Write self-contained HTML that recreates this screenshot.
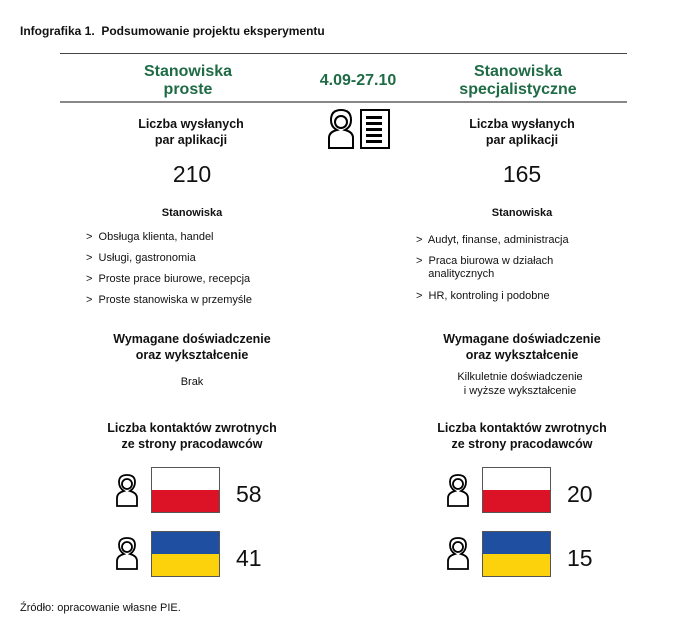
<!DOCTYPE html><html><head><meta charset="utf-8"><style>
body{margin:0;width:679px;height:637px;background:#fff;font-family:"Liberation Sans",sans-serif;color:#111;position:relative;overflow:hidden}
.a{position:absolute;white-space:nowrap}
.c{text-align:center;transform:translateX(-50%)}
.g{color:#1e6b45;font-weight:bold;font-size:16px;line-height:18px}
.h{font-weight:bold;font-size:12.5px;line-height:16px}
.n{font-size:23px}
.s{font-size:11px}
.li{font-size:11px;line-height:13px}
.fl{position:absolute;width:69px;height:46px;border:1px solid #555;box-sizing:border-box}
.pl{background:linear-gradient(#fff 50%,#dc1327 50%)}
.ua{background:linear-gradient(#1e4fa0 50%,#fcd20c 50%)}
</style></head><body>
<div class="a" style="left:20px;top:24px;font-weight:bold;font-size:12px">Infografika 1.&nbsp; Podsumowanie projektu eksperymentu</div>
<div class="a" style="left:60px;top:53px;width:567px;height:1px;background:#444"></div>
<div class="a" style="left:60px;top:101px;width:567px;height:2px;background:#888"></div>
<div class="a c g" style="left:188px;top:63px">Stanowiska<br>proste</div>
<div class="a c g" style="left:358px;top:72px">4.09-27.10</div>
<div class="a c g" style="left:518px;top:63px">Stanowiska<br>specjalistyczne</div>
<svg class="a" style="left:326px;top:108px" width="66" height="42" viewBox="0 0 66 42">
<g fill="none" stroke="#000" stroke-width="2"><path d="M3 40V30q0-6 8-8q-6-3-6-10q0-10 10-10q10 0 10 10q0 7-6 10q8 2 8 8v10z"/><circle cx="15" cy="14" r="6"/><rect x="35" y="2" width="28" height="38"/></g>
<g fill="#000"><rect x="40" y="8" width="16" height="3"/><rect x="40" y="14" width="16" height="3"/><rect x="40" y="20" width="16" height="3"/><rect x="40" y="26" width="16" height="3"/><rect x="40" y="32" width="16" height="3"/></g></svg>
<div class="a c h" style="left:191px;top:116px">Liczba wysłanych<br>par aplikacji</div>
<div class="a c h" style="left:522px;top:116px">Liczba wysłanych<br>par aplikacji</div>
<div class="a c n" style="left:192px;top:161px">210</div>
<div class="a c n" style="left:522px;top:161px">165</div>
<div class="a c h" style="left:192px;top:205px;font-size:11px">Stanowiska</div>
<div class="a c h" style="left:522px;top:205px;font-size:11px">Stanowiska</div>
<div class="a li" style="left:86px;top:231px">&gt;&nbsp; Obsługa klienta, handel</div>
<div class="a li" style="left:86px;top:252px">&gt;&nbsp; Usługi, gastronomia</div>
<div class="a li" style="left:86px;top:273px">&gt;&nbsp; Proste prace biurowe, recepcja</div>
<div class="a li" style="left:86px;top:294px">&gt;&nbsp; Proste stanowiska w przemyśle</div>
<div class="a li" style="left:416px;top:234px">&gt;&nbsp; Audyt, finanse, administracja</div>
<div class="a li" style="left:416px;top:255px">&gt;&nbsp; Praca biurowa w działach<br>&nbsp;&nbsp;&nbsp;&nbsp;analitycznych</div>
<div class="a li" style="left:416px;top:290px">&gt;&nbsp; HR, kontroling i podobne</div>
<div class="a c h" style="left:192px;top:331px">Wymagane doświadczenie<br>oraz wykształcenie</div>
<div class="a c h" style="left:522px;top:331px">Wymagane doświadczenie<br>oraz wykształcenie</div>
<div class="a c s" style="left:192px;top:376px">Brak</div>
<div class="a c s" style="left:520px;top:370px;line-height:14px">Kilkuletnie doświadczenie<br>i wyższe wykształcenie</div>
<div class="a c h" style="left:192px;top:420px">Liczba kontaktów zwrotnych<br>ze strony pracodawców</div>
<div class="a c h" style="left:522px;top:420px">Liczba kontaktów zwrotnych<br>ze strony pracodawców</div>
<svg width="0" height="0" style="position:absolute"><defs><g id="p" fill="none" stroke="#000" stroke-width="1.8"><path d="M1 32V24q0-5 7-7q-5-3-5-9q0-7 8-7q8 0 8 7q0 6-5 9q7 2 7 7v8z"/><circle cx="11" cy="10" r="5"/></g></defs></svg>
<svg class="a" style="left:116px;top:474px" width="26" height="34"><use href="#p"/></svg>
<svg class="a" style="left:116px;top:537px" width="26" height="34"><use href="#p"/></svg>
<svg class="a" style="left:447px;top:474px" width="26" height="34"><use href="#p"/></svg>
<svg class="a" style="left:447px;top:537px" width="26" height="34"><use href="#p"/></svg>
<div class="fl pl" style="left:151px;top:467px"></div>
<div class="fl ua" style="left:151px;top:531px"></div>
<div class="fl pl" style="left:482px;top:467px"></div>
<div class="fl ua" style="left:482px;top:531px"></div>
<div class="a n" style="left:236px;top:481px">58</div>
<div class="a n" style="left:236px;top:545px">41</div>
<div class="a n" style="left:567px;top:481px">20</div>
<div class="a n" style="left:567px;top:545px">15</div>
<div class="a s" style="left:20px;top:602px">Źródło: opracowanie własne PIE.</div>
</body></html>
